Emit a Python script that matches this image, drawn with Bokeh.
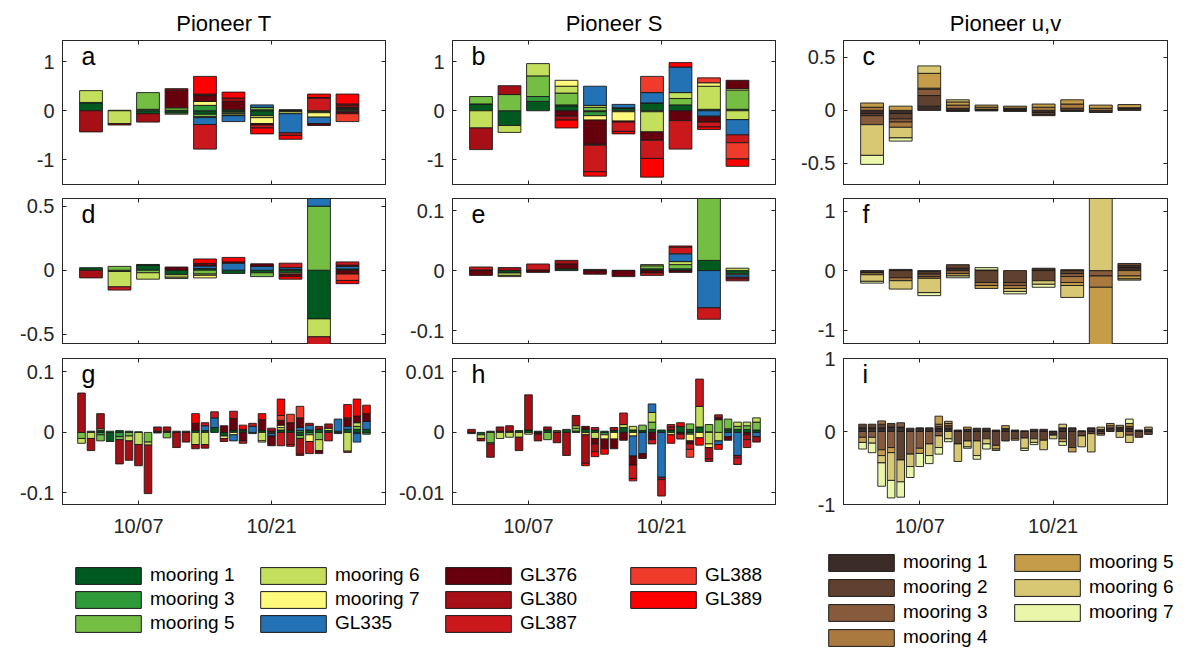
from bokeh.plotting import figure
from bokeh.layouts import column, row
from bokeh.models import (Range1d, FixedTicker, LinearAxis, Label, Legend, LegendItem,
                          ColumnDataSource)
from bokeh.embed import file_html
from bokeh.resources import INLINE

FONT = "Liberation Sans"
AX = "#262626"

# ---------------- series ----------------
ts_series = ["mooring 1", "mooring 3", "mooring 5", "mooring 6", "mooring 7",
             "GL335", "GL376", "GL380", "GL387", "GL388", "GL389"]
ts_colors = ["#005a1f", "#2f9a39", "#74bf43", "#c4df5b", "#fff97c",
             "#2372b5", "#67000d", "#a50f15", "#cb181d", "#ef3b2c", "#ff0000"]
uv_series = ["mooring 1", "mooring 2", "mooring 3", "mooring 4",
             "mooring 5", "mooring 6", "mooring 7"]
uv_colors = ["#3b2c27", "#60412f", "#865a3a", "#a9793f", "#c49c4a", "#d9c873", "#eaf6aa"]

# October day of each bar (3-day bins and daily bins)
days_3day = [2, 5, 8, 11, 14, 17, 20, 23, 26, 29]
days_daily = list(range(1, 32))
x_ticks = [7, 21]
x_tick_labels = ["10/07", "10/21"]

# ---------------- values: one row per bar, columns in series order ----------------
# panel a  (Pioneer T, 3-day)
a_T = [
    [0.16, 0.01, 0, 0.24, 0, 0, 0, -0.43, 0, 0, 0],
    [0.01, 0, 0, -0.26, 0, 0, 0, -0.03, 0, 0, 0],
    [-0.06, 0.03, 0.34, 0, 0, 0, 0, -0.17, 0, 0, 0],
    [-0.05, 0.01, 0.05, 0, -0.02, 0, 0.36, 0.03, 0, 0, 0],
    [-0.07, 0.11, -0.05, -0.02, 0.08, -0.14, 0.12, 0.03, -0.50, 0, 0.36],
    [-0.03, 0.02, -0.03, -0.03, -0.01, -0.12, 0.17, 0.07, 0, 0, 0.12],
    [-0.10, 0.02, 0.05, -0.04, -0.12, 0.05, -0.03, 0, -0.06, 0, -0.12],
    [-0.02, 0.01, 0, -0.04, 0, -0.39, 0.01, 0, -0.05, 0, -0.08],
    [-0.02, 0, 0, -0.02, -0.09, -0.13, -0.04, 0, 0.26, 0.01, 0.07],
    [0.02, 0.01, 0.02, 0.01, -0.02, 0.01, -0.04, 0.05, 0.02, -0.16, 0.20],
]
# panel b  (Pioneer S, 3-day)
b_S = [
    [0.13, 0.01, 0.15, -0.35, 0, 0, 0, -0.44, 0, 0, 0],
    [-0.30, 0, 0.33, -0.14, 0, 0, 0, 0.18, 0, 0, 0],
    [0.19, 0.10, 0.42, 0.25, 0, 0, 0, 0, 0, 0, 0],
    [0.10, 0.02, 0.24, 0.14, 0.12, 0, -0.11, -0.08, 0, 0, -0.16],
    [-0.02, -0.08, 0.07, 0.04, -0.09, 0.39, -0.49, -0.02, -0.54, 0, -0.09],
    [0.05, 0.01, -0.02, 0, -0.19, 0.07, 0, -0.02, -0.19, 0, -0.05],
    [0.15, 0.01, -0.02, -0.41, 0, 0.21, -0.17, 0, -0.37, 0.33, -0.38],
    [0.12, 0, 0.13, 0.12, 0, 0.52, -0.20, 0, -0.58, 0, 0.09],
    [0.03, 0, 0, 0.47, 0.07, -0.11, -0.12, 0, -0.10, 0.10, -0.05],
    [0.03, 0, 0.39, -0.18, 0.03, -0.31, 0.17, 0, -0.16, -0.33, -0.15],
]
# panel c  (Pioneer u,v, 3-day)
c_UV = [
    [-0.03, -0.02, -0.085, 0.03, 0.04, -0.29, -0.085],
    [-0.03, -0.05, -0.03, -0.05, 0.04, -0.10, -0.03],
    [0.04, 0.10, 0.06, 0.01, 0.14, 0.07, 0],
    [0.02, -0.01, 0, 0.03, 0.03, 0.02, 0],
    [0.01, -0.005, 0, 0.02, 0.02, 0, 0],
    [0.01, -0.01, 0.01, 0.02, 0, 0, 0],
    [-0.02, -0.02, -0.01, 0.03, 0.03, 0, 0],
    [-0.01, 0.02, 0, 0.04, 0.04, 0, 0],
    [-0.02, 0, 0, 0.02, 0.03, 0, 0],
    [0.02, 0.005, 0, 0, 0.03, 0, 0],
]
# panel d  (Pioneer T, 3-day, second term)
d_T = [
    [0.02, 0, 0, 0, 0, 0, 0, -0.06, 0, 0, 0],
    [-0.01, 0, 0.03, -0.12, 0, 0, 0, 0, -0.025, 0, 0],
    [0.04, 0.005, -0.02, -0.05, 0, 0, 0, 0, 0, 0, 0],
    [-0.035, 0, 0, -0.02, -0.01, 0, 0.025, 0, 0, 0, 0],
    [0.013, 0, -0.03, -0.01, -0.02, 0.02, 0.02, 0, 0, 0, 0.035],
    [-0.025, 0, 0, 0, 0, 0.055, 0.01, 0, 0, 0, 0.035],
    [-0.02, 0, -0.03, 0, 0, 0.03, 0.02, 0, 0, 0, 0],
    [-0.02, 0.005, 0, 0, -0.01, 0.015, -0.02, 0, 0.035, 0, -0.02],
    [-0.38, 0, 0.50, -0.14, 0, 0.15, 0, 0, -0.10, 0, 0],
    [0.01, 0, 0, 0, 0, 0.02, -0.03, 0.01, 0.025, -0.05, -0.025],
]
# panel e  (Pioneer S, 3-day, second term)
e_S = [
    [0.001, 0, 0, 0, 0, 0, -0.008, 0, 0.005, 0, 0],
    [-0.004, 0, 0, -0.004, -0.002, 0, 0, 0.005, 0, 0, 0],
    [0.001, 0, 0, 0, 0, 0, -0.003, 0, 0.010, 0, 0],
    [0.003, 0, 0, 0, 0, 0, 0.008, 0.006, 0, 0, 0],
    [0.002, 0, 0, 0, 0, 0, -0.006, 0, 0, 0, 0],
    [0.0005, 0, 0, 0, 0, 0, -0.010, 0, 0, 0, 0],
    [0.003, 0, 0.005, 0.002, 0, 0, -0.004, 0, -0.004, 0, 0],
    [0.003, 0, 0.007, 0.005, 0, 0.013, -0.003, 0, 0.011, 0, 0.002],
    [0.017, 0, 0.12, 0, 0, -0.062, 0, 0, -0.019, 0, 0],
    [-0.005, 0, 0, 0.004, -0.002, -0.004, 0, -0.003, -0.003, 0, 0],
]
# panel f  (Pioneer u,v, 3-day, second term)
f_UV = [
    [-0.04, 0, 0, 0, -0.03, -0.11, -0.03],
    [0.02, -0.12, 0, -0.05, 0, -0.14, 0],
    [-0.02, -0.04, -0.04, -0.03, 0, -0.24, -0.05],
    [0.04, 0.06, -0.05, 0, -0.04, 0, -0.03],
    [0.01, -0.20, 0, -0.05, -0.05, 0, 0.04],
    [0, -0.20, -0.05, -0.05, 0, -0.05, -0.04],
    [0.04, -0.17, 0, 0, 0, -0.06, -0.05],
    [0.015, -0.05, -0.05, -0.10, -0.05, -0.20, 0],
    [0, 0, -0.09, -0.19, -1.2, 1.4, 0],
    [0.06, 0.03, 0.03, -0.09, -0.05, -0.02, 0],
]
# panel g  (Pioneer T, daily)
g_T = [
    [0, 0, -0.010, -0.008, 0, 0, 0, 0.065, 0, 0, 0],
    [0.002, 0, 0, -0.010, 0, 0, 0, -0.020, 0, 0, 0],
    [0.003, -0.004, -0.010, 0.003, 0, 0, 0, 0.025, 0, 0, 0],
    [-0.015, 0.002, 0, 0, 0, 0, 0, 0, 0, 0, 0],
    [0.003, -0.007, -0.005, 0, 0, 0, 0, -0.040, 0, 0, 0],
    [0.002, 0, -0.006, -0.008, 0, 0, 0, -0.032, 0, 0, 0],
    [0.001, 0, 0, -0.020, 0, 0, 0, -0.035, 0, 0, 0],
    [0, 0, -0.016, -0.005, 0, 0, 0, -0.080, 0, 0, 0],
    [0.002, 0, 0, -0.001, 0, 0, 0, 0.007, 0, 0, 0],
    [0.002, 0, -0.009, 0, 0, 0, 0, 0.007, 0, 0, 0],
    [0.002, 0, 0, 0, 0, 0, 0, -0.025, 0, 0, 0],
    [0.002, 0, 0, 0, 0, 0, 0, -0.016, 0, 0, 0],
    [0.003, 0, 0, -0.020, 0, 0, 0.012, -0.007, 0, 0, 0.016],
    [0.003, 0, 0, -0.020, 0, 0.008, 0, -0.006, 0.005, 0, 0],
    [0.008, 0, 0, 0, 0, 0.016, 0, 0, 0.010, 0, 0],
    [-0.006, 0, 0, 0, -0.004, 0, 0.011, -0.005, 0, 0, 0],
    [0.003, 0, 0, 0, -0.004, -0.010, 0.020, 0, 0.012, 0, 0],
    [0.003, 0.002, 0, 0, 0, 0, -0.014, 0, -0.004, 0, 0.007],
    [-0.002, 0, 0, 0, 0, 0.010, 0, 0, 0.005, 0, 0],
    [0.003, 0, 0, -0.014, -0.002, 0, 0.018, 0, 0, 0, 0.010],
    [0.002, 0, 0, -0.002, 0, -0.004, -0.016, 0.005, 0, 0, 0],
    [0.004, 0, 0, 0.004, 0.004, 0, 0.008, 0, -0.022, 0.008, 0.027],
    [0.003, 0, 0, 0, 0, 0, 0.013, -0.020, 0, 0.014, -0.003],
    [-0.005, 0.003, -0.005, 0, 0, 0.005, 0.016, -0.026, 0, 0.019, -0.002],
    [0.004, -0.004, 0, 0, -0.011, 0.008, 0, 0, -0.020, 0, 0.003],
    [0.005, 0, -0.012, -0.018, 0, 0, -0.005, 0.005, 0, 0, 0],
    [0.003, 0, 0, 0.004, 0, 0, 0, 0.007, -0.014, 0, 0],
    [-0.002, 0.002, 0, 0, 0, 0.020, 0, 0, 0, 0, 0],
    [0.005, 0, 0, -0.031, 0, 0.005, 0.011, 0.003, 0, -0.002, 0.022],
    [0.005, -0.002, 0.005, 0.006, 0, -0.014, 0.011, 0, 0, 0, 0.028],
    [0.005, -0.003, 0, 0, 0, 0.013, 0.013, 0, 0, 0, 0.014],
]
# panel h  (Pioneer S, daily)
h_S = [
    [-0.0002, 0, 0, 0, 0, 0, 0, 0.0005, 0, 0, 0],
    [-0.0004, 0, 0, -0.0006, 0, 0, 0, -0.0004, 0, 0, 0],
    [0.0002, 0, -0.0017, -0.0002, 0, 0, 0, -0.0022, 0, 0, 0],
    [0.0002, 0, 0, -0.0010, 0, 0, 0, 0.0007, 0, 0, 0],
    [0.0002, 0, 0, -0.0008, 0, 0, 0, 0.0009, 0, 0, 0],
    [0.0003, 0, 0, -0.0008, 0, 0, 0, -0.0022, 0, 0, 0],
    [0.0004, 0, 0, -0.0003, 0, 0, 0, 0.0058, 0, 0, 0],
    [0.0002, 0, 0, 0, 0, 0, -0.0003, -0.0011, 0, 0, 0],
    [0.0004, 0, -0.0012, 0, 0, 0, 0, 0.0005, 0, 0, 0],
    [0.0001, 0, 0, 0.0002, 0, 0, 0, -0.0017, 0, 0, 0],
    [0.0005, 0, 0, 0, 0, 0, 0, -0.0038, 0, 0, 0],
    [0.0002, 0, 0.0005, 0.0004, 0, 0, 0, 0.0017, 0, 0, 0],
    [0.0005, 0, 0, -0.0004, 0, 0, 0.0005, -0.0047, 0, 0, -0.0004],
    [0.0004, 0, 0, -0.0010, 0, 0, -0.0009, -0.0013, 0.0004, 0, -0.0008],
    [0.0002, -0.0004, 0, 0, -0.0007, 0, -0.0016, 0, 0, 0, -0.0009],
    [0.0003, 0, 0, 0, -0.0011, 0, -0.0016, 0.0005, 0, 0, 0],
    [0.0008, 0, 0, 0.0005, 0, 0, -0.0013, 0, 0.0019, 0, 0],
    [0.0004, 0, 0, 0.0006, -0.0006, -0.0033, -0.0015, 0, -0.0022, 0, -0.0004],
    [0.0003, 0, 0.0009, 0, 0, -0.0035, -0.0008, 0, 0, 0, 0],
    [0.0005, 0, 0.0012, 0.0016, 0, 0.0014, -0.0012, 0, -0.0007, 0, 0],
    [0.0004, 0, 0, 0, 0, -0.0074, 0, -0.0004, -0.0027, 0, 0],
    [0.0004, 0, 0, -0.0004, 0, 0, 0, 0.0005, 0.0004, 0, -0.0014],
    [0.0010, 0, 0, 0, 0, 0, -0.0003, 0, -0.0008, 0, 0.0006],
    [0.0005, -0.0003, 0.0009, 0, -0.0011, 0, -0.0005, 0, -0.0009, -0.0013, 0],
    [0.0009, 0, 0, 0.0034, -0.0009, 0, 0, 0, 0.0045, 0, -0.0012],
    [0.0001, 0, 0.0012, -0.0019, -0.0006, 0, 0, -0.0019, -0.0004, 0, 0],
    [0, 0, 0.0021, -0.0014, 0, -0.0006, 0.0004, 0, 0.0004, 0, -0.0008],
    [0.0004, 0.0002, 0.0016, 0, 0, -0.0007, -0.0006, 0, 0, 0, 0],
    [0.0005, 0, 0.0005, 0.0007, 0, -0.0038, 0, -0.0004, -0.0011, 0, 0],
    [0.0005, 0, 0.0006, 0.0006, 0, 0, -0.0004, -0.0008, -0.0013, 0, 0],
    [0.0004, 0, 0.0013, 0.0007, 0, -0.0007, 0, -0.0009, 0, 0, 0],
]
# panel i  (Pioneer u,v, daily)
i_UV = [
    [0.05, 0.05, -0.08, 0, -0.07, 0, -0.09],
    [0.05, 0.05, -0.08, 0, 0, -0.08, -0.13],
    [0.05, 0.05, -0.25, 0.045, -0.08, -0.10, -0.32],
    [0.06, 0.05, -0.22, 0, -0.07, -0.38, -0.24],
    [0.06, -0.39, 0.06, 0, 0, -0.30, -0.21],
    [0.045, 0, -0.31, 0, 0, -0.17, -0.15],
    [0.05, 0, -0.23, 0, -0.07, 0, -0.18],
    [0.05, 0, -0.17, 0, 0, -0.16, -0.11],
    [0.04, 0.03, -0.06, 0.03, 0.11, -0.16, -0.09],
    [0.04, 0.04, 0, 0.03, 0.03, -0.10, -0.04],
    [0.02, -0.17, 0, 0, 0, -0.24, 0],
    [0.03, -0.13, 0, 0, 0.03, -0.08, -0.02],
    [0.045, -0.13, 0, 0, 0, -0.20, -0.05],
    [0.045, -0.10, 0, 0, 0, -0.07, -0.07],
    [0.02, -0.19, 0, 0, -0.05, -0.02, 0],
    [0.04, -0.13, 0, 0, 0.04, 0, 0],
    [0.02, -0.10, 0, 0, -0.02, 0, 0],
    [0.01, -0.09, 0, 0, 0, -0.14, -0.03],
    [0.03, -0.10, 0, 0, 0, -0.05, -0.03],
    [0.03, -0.12, 0, 0, 0, -0.13, 0],
    [-0.05, 0.005, 0, 0, 0, -0.05, 0],
    [0.05, -0.10, 0, 0, -0.04, 0.05, -0.05],
    [0.05, -0.22, 0, 0, -0.06, 0, 0],
    [0.01, -0.06, 0, 0, 0, -0.15, 0],
    [0.05, -0.03, 0, 0, 0, -0.25, 0],
    [0.03, -0.03, 0, 0, -0.02, 0.03, 0],
    [0.05, 0, 0, 0.03, 0.03, 0, 0],
    [0.04, 0, 0, 0.02, 0.025, -0.08, 0],
    [0.04, 0.03, -0.05, 0, 0.04, -0.10, 0.06],
    [0.02, -0.08, 0, 0, 0, 0, 0],
    [0.03, -0.04, 0, 0, 0, 0.03, 0],
]

# ---------------- layout geometry ----------------
X_RANGE = (-1, 33)
COLS = [dict(w=393, l=62, r=8), dict(w=390, l=59, r=8), dict(w=405, l=60, r=21)]
ROWS = [dict(h=191, t=40, b=7), dict(h=153, t=7, b=0), dict(h=201, t=14, b=41)]


def fmt(v):
    return "%g" % v


def hidden_axis(ticks):
    return LinearAxis(ticker=FixedTicker(ticks=ticks), major_label_text_font_size="0px",
                      major_label_text_color=None, major_label_standoff=0,
                      major_tick_in=4, major_tick_out=0, minor_tick_line_color=None,
                      axis_line_color=AX, major_tick_line_color=AX)


def make_panel(rows, days, colors, bar_w, yr, yticks, letter, ci, ri, title=None):
    c, r = COLS[ci], ROWS[ri]
    p = figure(width=c["w"], height=r["h"], x_range=Range1d(*X_RANGE), y_range=Range1d(*yr),
               output_backend="svg", toolbar_location=None,
               x_axis_location=None, y_axis_location=None,
               min_border_left=c["l"], min_border_right=c["r"],
               min_border_top=r["t"], min_border_bottom=r["b"])
    p.xgrid.visible = False
    p.ygrid.visible = False
    p.outline_line_color = AX
    p.outline_line_width = 1
    p.background_fill_color = "white"
    p.border_fill_color = "white"
    if title:
        p.title.text = title
        p.title.align = "center"
        p.title.text_font = FONT
        p.title.text_font_size = "22px"
        p.title.text_font_style = "normal"
        p.title.text_color = "#000000"

    # stacked segments (positives stacked upward, negatives downward, in series order)
    L, R, T, B, F = [], [], [], [], []
    for d, vals in zip(days, rows):
        pos, neg = 0.0, 0.0
        for k, v in enumerate(vals):
            if v == 0:
                continue
            if v > 0:
                b0, t0 = pos, pos + v
                pos = t0
            else:
                t0, b0 = neg, neg + v
                neg = b0
            L.append(d - bar_w / 2)
            R.append(d + bar_w / 2)
            T.append(t0)
            B.append(b0)
            F.append(colors[k])
    src = ColumnDataSource(dict(left=L, right=R, top=T, bottom=B, fill=F))
    p.quad(left="left", right="right", top="top", bottom="bottom", source=src,
           fill_color="fill", line_color="#1a1a1a", line_width=0.9)

    # bottom axis (labels only on the last row)
    if ri == 2:
        xa = LinearAxis(ticker=FixedTicker(ticks=x_ticks),
                        major_label_overrides={t: lab for t, lab in zip(x_ticks, x_tick_labels)},
                        major_tick_in=4, major_tick_out=0, minor_tick_line_color=None,
                        axis_line_color=AX, major_tick_line_color=AX,
                        major_label_text_font=FONT, major_label_text_color=AX,
                        major_label_text_font_size="20px", major_label_standoff=10)
    else:
        xa = hidden_axis(x_ticks)
    p.add_layout(xa, "below")

    ya = LinearAxis(ticker=FixedTicker(ticks=yticks),
                    major_label_overrides={t: fmt(t) for t in yticks},
                    major_tick_in=4, major_tick_out=0, minor_tick_line_color=None,
                    axis_line_color=AX, major_tick_line_color=AX,
                    major_label_text_font=FONT, major_label_text_color=AX,
                    major_label_text_font_size="20px", major_label_standoff=8)
    p.add_layout(ya, "left")

    # mirrored ticks on top and right (box axes)
    p.add_layout(hidden_axis(x_ticks), "above")
    p.add_layout(hidden_axis(yticks), "right")

    frame_h = r["h"] - r["t"] - r["b"]
    frame_w = c["w"] - c["l"] - c["r"]
    lx = X_RANGE[0] + 19.0 * (X_RANGE[1] - X_RANGE[0]) / frame_w
    ly = yr[1] - 15.0 * (yr[1] - yr[0]) / frame_h
    p.add_layout(Label(x=lx, y=ly, text=letter, text_font=FONT, text_font_size="25px",
                       text_color="#000000", text_baseline="alphabetic", text_align="left"))
    return p


W3, W1 = 2.4, 0.8
pa = make_panel(a_T, days_3day, ts_colors, W3, (-1.5, 1.43), [-1, 0, 1], "a", 0, 0, "Pioneer T")
pb = make_panel(b_S, days_3day, ts_colors, W3, (-1.5, 1.43), [-1, 0, 1], "b", 1, 0, "Pioneer S")
pc = make_panel(c_UV, days_3day, uv_colors, W3, (-0.70, 0.66), [-0.5, 0, 0.5], "c", 2, 0, "Pioneer u,v")
pd = make_panel(d_T, days_3day, ts_colors, W3, (-0.58, 0.56), [-0.5, 0, 0.5], "d", 0, 1)
pe = make_panel(e_S, days_3day, ts_colors, W3, (-0.123, 0.12), [-0.1, 0, 0.1], "e", 1, 1)
pf = make_panel(f_UV, days_3day, uv_colors, W3, (-1.24, 1.21), [-1, 0, 1], "f", 2, 1)
pg = make_panel(g_T, days_daily, ts_colors, W1, (-0.119, 0.122), [-0.1, 0, 0.1], "g", 0, 2)
ph = make_panel(h_S, days_daily, ts_colors, W1, (-0.0119, 0.0122), [-0.01, 0, 0.01], "h", 1, 2)
pi = make_panel(i_UV, days_daily, uv_colors, W1, (-1.0, 1.0), [-1, 0, 1], "i", 2, 2)

# ---------------- legends ----------------
lf = figure(width=1188, height=105, x_range=Range1d(0, 1), y_range=Range1d(0, 1),
            output_backend="svg", toolbar_location=None, x_axis_type=None, y_axis_type=None,
            min_border=0)
lf.xgrid.visible = False
lf.ygrid.visible = False
lf.outline_line_color = None
lf.background_fill_color = "white"
lf.border_fill_color = "white"


def add_legend(names, colors, loc, nrows, spacing):
    items = []
    for n, col in zip(names, colors):
        # a swatch renderer placed outside the visible range: only its legend glyph is seen
        rr = lf.quad(left=[5], right=[6], top=[5], bottom=[4], fill_color=col,
                     line_color="#1a1a1a", line_width=1)
        items.append(LegendItem(label=n, renderers=[rr]))
    leg = Legend(items=items, location=loc, orientation="vertical", nrows=nrows,
                 glyph_width=82, glyph_height=21, label_standoff=1, label_width=100,
                 label_height=20, spacing=spacing, padding=0, margin=0,
                 border_line_color=None, background_fill_alpha=0,
                 label_text_font=FONT, label_text_font_size="19px", label_text_color="#000000")
    lf.add_layout(leg)


add_legend(ts_series, ts_colors, (67, 16), 3, 2)
add_legend(uv_series, uv_colors, (820, 2), 4, 3)

layout = column(row(pa, pb, pc), row(pd, pe, pf), row(pg, ph, pi), lf)

open("out.html", "w").write(file_html(layout, INLINE))
